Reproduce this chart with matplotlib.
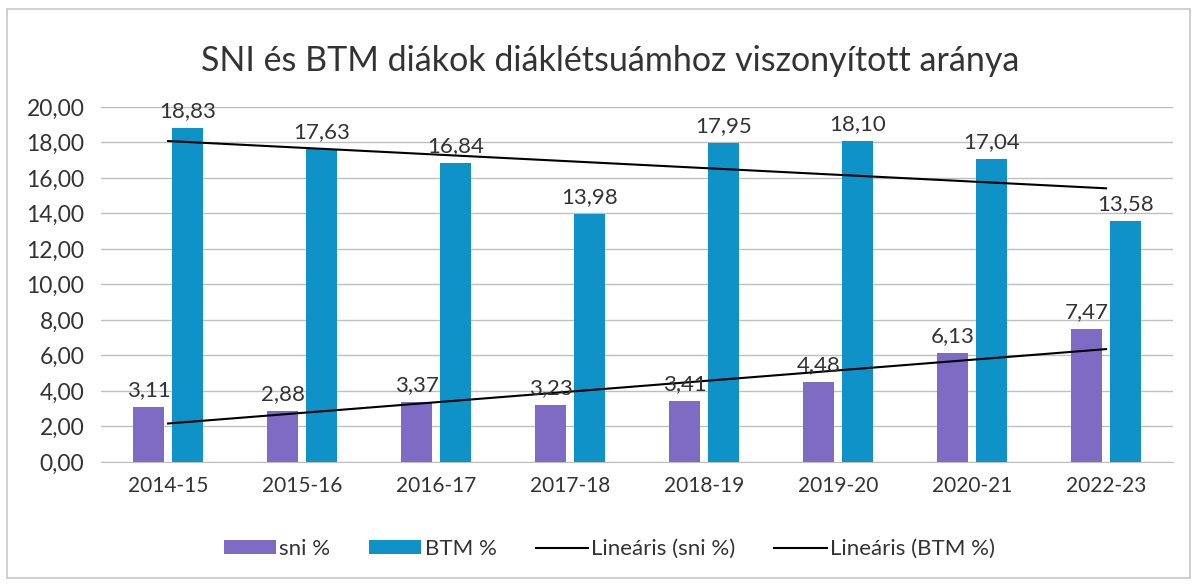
import numpy as np
import matplotlib
matplotlib.use("Agg")
import matplotlib.pyplot as plt
from matplotlib.patches import Rectangle

# data
years = ['2014-15', '2015-16', '2016-17', '2017-18', '2018-19', '2019-20', '2020-21', '2022-23']
sni = [3.11, 2.88, 3.37, 3.23, 3.41, 4.48, 6.13, 7.47]
btm = [18.83, 17.63, 16.84, 13.98, 17.95, 18.10, 17.04, 13.58]
yticks = [0, 2, 4, 6, 8, 10, 12, 14, 16, 18, 20]

c_sni = '#7E6CC4'
c_btm = '#0E92C8'
txt = '#333333'

plt.rcParams['font.family'] = ['Lato', 'DejaVu Sans']

fig = plt.figure(figsize=(11.97, 5.84), dpi=100)
ax = fig.add_axes([0.0844, 0.209, 0.8956, 0.608])

x = np.arange(len(years))
w = 0.23
off = 0.145
b1 = ax.bar(x - off, sni, w, color=c_sni, label='sni %', zorder=3)
b2 = ax.bar(x + off, btm, w, color=c_btm, label='BTM %', zorder=3)

def fmt(v):
    return f'{v:.2f}'.replace('.', ',')

for xi, v in zip(x, sni):
    ax.annotate(fmt(v), (xi - off, v), xytext=(0, 5), textcoords='offset points',
                ha='center', va='bottom', fontsize=16, color=txt, zorder=5)
for xi, v in zip(x, btm):
    ax.annotate(fmt(v), (xi + off, v), xytext=(0, 5), textcoords='offset points',
                ha='center', va='bottom', fontsize=16, color=txt, zorder=5)

# linear trendlines (Excel style, over category positions 1..n)
xn = x + 1
p1 = np.polyfit(xn, sni, 1)
p2 = np.polyfit(xn, btm, 1)
l1, = ax.plot(x, np.polyval(p1, xn), color='black', lw=1.5, label='Lineáris (sni %)', zorder=4)
l2, = ax.plot(x, np.polyval(p2, xn), color='black', lw=1.5, label='Lineáris (BTM %)', zorder=4)

ax.set_xlim(-0.5, len(years) - 0.5)
ax.set_ylim(0, 20)
ax.set_yticks(yticks)
ax.set_yticklabels([fmt(v) for v in yticks])
ax.set_xticks(x)
ax.set_xticklabels(years)
ax.tick_params(axis='both', length=0, colors=txt)
ax.tick_params(axis='y', pad=12, labelsize=16.5)
ax.tick_params(axis='x', pad=10, labelsize=15)
ax.grid(axis='y', color='#BFBFBF', lw=1, zorder=0)
for s in ['top', 'right', 'left']:
    ax.spines[s].set_visible(False)
ax.spines['bottom'].set_color('#BFBFBF')

fig.text(0.51, 0.895, 'SNI és BTM diákok diáklétsuámhoz viszonyított aránya',
         ha='center', va='center', fontsize=24.5, color=txt)

fig.legend([b1, b2, l1, l2], ['sni %', 'BTM %', 'Lineáris (sni %)', 'Lineáris (BTM %)'],
           loc='center', bbox_to_anchor=(0.509, 0.06), ncol=4, frameon=False,
           fontsize=16, labelcolor=txt, handlelength=2.35, handleheight=0.6,
           columnspacing=1.75, handletextpad=0.15)

fig.patches.append(Rectangle((0.006, 0.01), 0.988, 0.975, transform=fig.transFigure,
                             fill=False, edgecolor='#C8C8C8', lw=1.2))

fig.savefig('out.png', dpi=100)
